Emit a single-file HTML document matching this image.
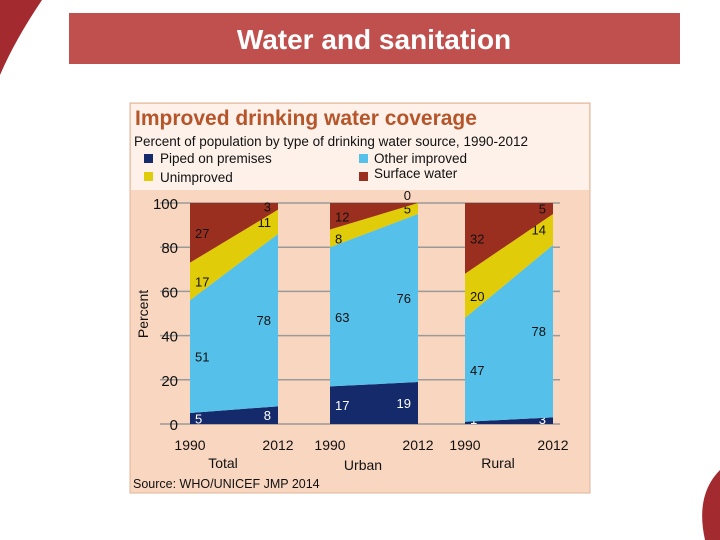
<!DOCTYPE html>
<html><head><meta charset="utf-8">
<style>
body{margin:0;width:720px;height:540px;background:#fff;overflow:hidden;position:relative;font-family:"Liberation Sans","DejaVu Sans",sans-serif}
</style></head>
<body>
<svg width="720" height="540" style="position:absolute;left:0;top:0">
  <path d="M0,0 L42,0 Q15,40 0,75 Z" fill="#a32a2e"/>
  <path d="M720,470 Q695,495 705,540 L720,540 Z" fill="#a32a2e"/>
  <rect x="69" y="13" width="611" height="51" fill="#c0504d"/>
  <text x="374" y="49" text-anchor="middle" font-size="28" font-weight="bold" fill="#fff" font-family="Liberation Sans, sans-serif">Water and sanitation</text>
  <rect x="130" y="103" width="460" height="390" fill="#f9d6bf" stroke="#e0b49a"/>
  <rect x="131" y="104" width="458" height="86" fill="#fdf1ea"/>
  <text x="135" y="125" font-size="21" font-weight="bold" fill="#b6552a">Improved drinking water coverage</text>
  <text x="134" y="146" font-size="13.5" fill="#111">Percent of population by type of drinking water source, 1990-2012</text>
  <g font-size="13.5" fill="#111">
    <rect x="144" y="154" width="9" height="9" fill="#142a6b"/>
    <text x="160" y="163">Piped on premises</text>
    <rect x="144" y="172" width="9" height="9" fill="#e1cc0a"/>
    <text x="160" y="182">Unimproved</text>
    <rect x="359" y="154" width="9" height="9" fill="#55c0ea"/>
    <text x="374" y="163">Other improved</text>
    <rect x="359" y="172" width="9" height="9" fill="#9b2f1f"/>
    <text x="374" y="178">Surface water</text>
  </g>
  <g id="plot"></g>
  <text x="133" y="488" font-size="12.5" fill="#111">Source:  WHO/UNICEF JMP 2014</text>
</svg>
<script>
const groups = ["Total","Urban","Rural"];
const years = ["1990","2012"];
const piped1990 = [5,17,1], piped2012 = [8,19,3];
const other1990 = [51,63,47], other2012 = [78,76,78];
const unimp1990 = [17,8,20], unimp2012 = [11,5,14];
const surf1990 = [27,12,32], surf2012 = [3,0,5];
const yTicks = [0,20,40,60,80,100];

const NS="http://www.w3.org/2000/svg";
const g=document.getElementById('plot');
const y0=424, y1=203;
const y=v=>y0-(y0-y1)*v/100;
const panelX=[190,330,465], panelW=88;
function el(t,a){const e=document.createElementNS(NS,t);for(const k in a)e.setAttribute(k,a[k]);g.appendChild(e);return e;}
yTicks.forEach(t=>{
  const l=el('line',{x1:160,x2:560,y1:y(t),y2:y(t),stroke:'#9a9a9a','stroke-width':1.5});
  
  
  const tx=el('text',{x:178,y:y(t)+6,'text-anchor':'end','font-size':15,fill:'#111'});tx.textContent=t;
  
  
});
const yt=el('text',{x:148,y:314,'text-anchor':'middle','font-size':14,fill:'#111',transform:'rotate(-90 148 314)'});yt.textContent='Percent';


const series=[["piped",piped1990,piped2012,"#142a6b","#fff"],["other",other1990,other2012,"#55c0ea","#111"],["unimproved",unimp1990,unimp2012,"#e1cc0a","#111"],["surface",surf1990,surf2012,"#9b2f1f","#111"]];
groups.forEach((gn,i)=>{
  const xl=panelX[i], xr=xl+panelW;
  let b0=0,b1=0;
  series.forEach(s=>{
    const a=s[1][i], b=s[2][i];
    const p=el('polygon',{points:`${xl},${y(b0)} ${xr},${y(b1)} ${xr},${y(b1+b)} ${xl},${y(b0+a)}`,fill:s[3]});
    
    
    const m0=Math.min(Math.max(b0+a/2,0),100), m1=b1+b/2;
    const t0=el('text',{x:xl+5,y:Math.min(y(m0)+5,y0),'font-size':13,fill:s[4]});t0.textContent=a;
    
    
    let ty1=Math.min(y(m1)+5,y0);
    if(b===0) ty1=y(100)-3;
    const t1=el('text',{x:xr-7,y:ty1,'font-size':13,'text-anchor':'end',fill:s[4]});t1.textContent=b;
    
    
    b0+=a;b1+=b;
  });
  const ya=el('text',{x:xl,y:450,'text-anchor':'middle','font-size':14,fill:'#111'});ya.textContent=years[0];
  
  
  const yb=el('text',{x:xr,y:450,'text-anchor':'middle','font-size':14,fill:'#111'});yb.textContent=years[1];
  
  
  const gl=el('text',{x:xl+panelW/2-11,y:i===1?470:468,'text-anchor':'middle','font-size':14,fill:'#111'});gl.textContent=gn;
  
  
});
</script>
</body></html>
